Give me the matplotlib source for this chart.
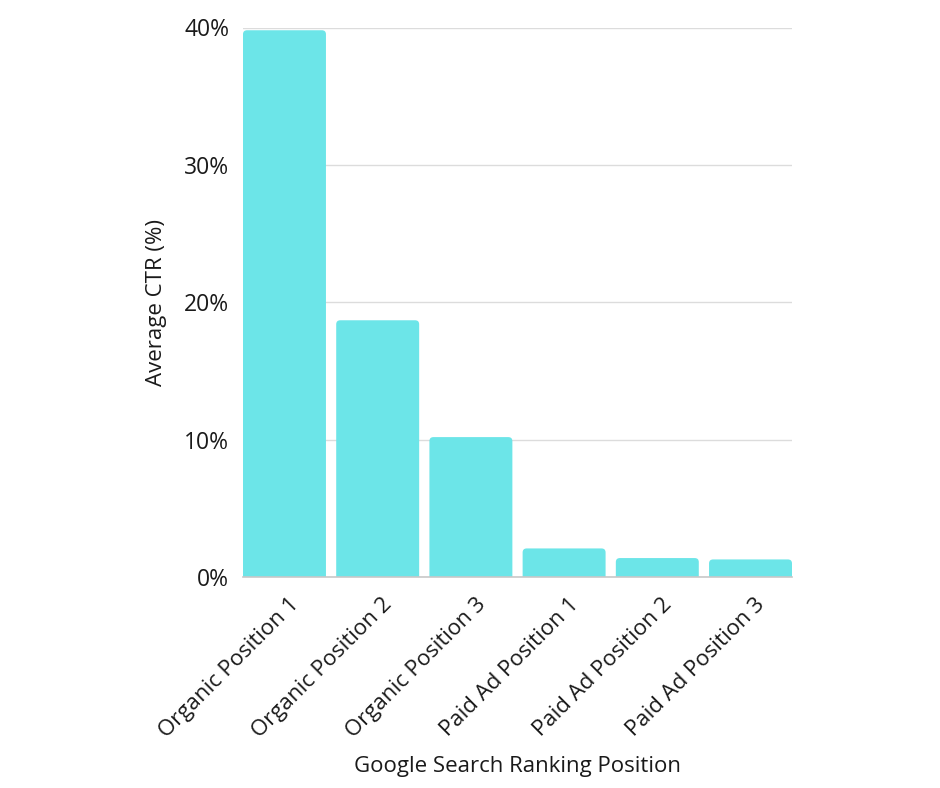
import matplotlib
matplotlib.use("Agg")
import matplotlib.pyplot as plt
import matplotlib.transforms as mtransforms
from matplotlib.patches import FancyBboxPatch
from matplotlib.ticker import FuncFormatter

categories = ["Organic Position 1", "Organic Position 2", "Organic Position 3",
              "Paid Ad Position 1", "Paid Ad Position 2", "Paid Ad Position 3"]
ctr = [39.8, 18.7, 10.2, 2.1, 1.4, 1.3]
yticks = [0, 10, 20, 30, 40]

plt.rcParams['font.family'] = ['Open Sans', 'DejaVu Sans']

fig = plt.figure(figsize=(9.4, 7.88), dpi=100)
ax = fig.add_axes([243/940, 1-577.3/788, (792-243)/940, (577.3-27.5)/788])

bars = ax.bar(range(len(categories)), ctr, width=0.89, color='#6CE5E8')
ppx = 549/6.0
ppy = 549.8/40.0
for b in bars:
    x0, w, h = b.get_x(), b.get_width(), b.get_height()
    b.set_visible(False)
    r = 4.0 / ppx
    p = FancyBboxPatch((x0 + r, -2 + r*ppx/ppy), w - 2*r, h + 2 - 2*r*ppx/ppy,
                       boxstyle=f"round,pad={r},rounding_size={r}",
                       mutation_aspect=ppx/ppy, facecolor='#6CE5E8',
                       edgecolor='none', clip_on=True, zorder=2)
    ax.add_patch(p)

ax.set_xlim(-0.445, len(categories) - 1 + 0.445)
ax.set_ylim(0, 40)
ax.set_yticks(yticks)
ax.yaxis.set_major_formatter(FuncFormatter(lambda v, p: f"{int(v)}%"))
ax.grid(axis='y', color='#dcdcdc', linewidth=1)
ax.set_axisbelow(True)
for s in ['top', 'right', 'left']:
    ax.spines[s].set_visible(False)
ax.spines['bottom'].set_color('#c8c8c8')
ax.spines['bottom'].set_linewidth(1.2)
ax.spines['bottom'].set_zorder(3)
ax.tick_params(axis='both', length=0, colors='#1a1a1a')
ax.tick_params(axis='y', labelsize=16.5, pad=10)
ax.set_xticks(range(len(categories)))
ax.set_xticklabels(categories, rotation=45, ha='right', rotation_mode='anchor',
                   fontsize=16)
ax.tick_params(axis='x', pad=12)
offset = mtransforms.ScaledTranslation(4/100, 0, fig.dpi_scale_trans)
for lab in ax.get_xticklabels():
    lab.set_transform(lab.get_transform() + offset)
ax.set_ylabel("Average CTR (%)", fontsize=16, labelpad=12, color='#1a1a1a')
ax.set_xlabel("Google Search Ranking Position", fontsize=16, labelpad=10, color='#1a1a1a')

fig.savefig("out.png", dpi=100, facecolor='white')
